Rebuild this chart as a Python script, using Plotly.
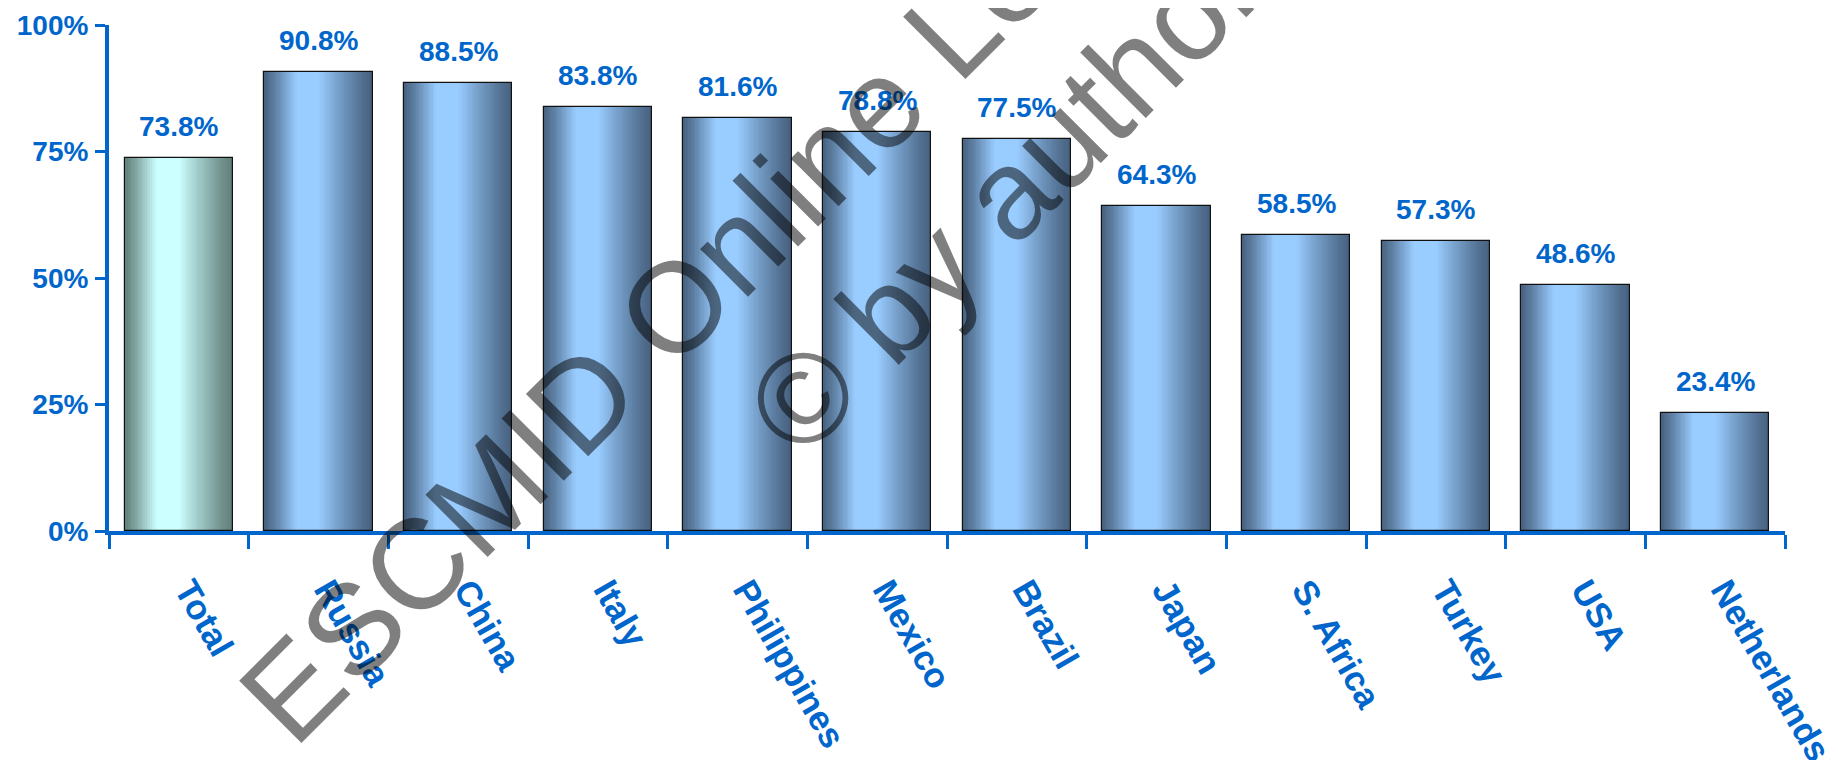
import plotly.graph_objects as go

# ---- data ----
categories = ["Total", "Russia", "China", "Italy", "Philippines", "Mexico",
              "Brazil", "Japan", "S. Africa", "Turkey", "USA", "Netherlands"]
values = [73.8, 90.8, 88.5, 83.8, 81.6, 78.8, 77.5, 64.3, 58.5, 57.3, 48.6, 23.4]
y_tick_values = [0, 25, 50, 75, 100]
y_tick_labels = ["0%", "25%", "50%", "75%", "100%"]
watermark_lines = ["ESCMID Online Lecture Library", "© by author"]

# ---- style ----
BLUE = "#0066cc"
FONT = "Liberation Sans, Arial, sans-serif"
BAR_W = 0.775
N_SLICES = 64
LABEL_PAD = "\u00a0\u00a0"   # nudges the slanted category labels along their baseline

dark_blue, light_blue = (70, 96, 126), (153, 204, 255)
dark_total, light_total = (96, 125, 120), (204, 255, 255)
profile = [(0.0, 0.0), (0.1, 0.3), (0.3, 1.0), (0.5, 1.0), (0.7, 0.55), (0.9, 0.15), (1.0, 0.0)]


def light_frac(t):
    for (t0, f0), (t1, f1) in zip(profile[:-1], profile[1:]):
        if t0 <= t <= t1:
            return f0 + (f1 - f0) * (t - t0) / (t1 - t0)
    return 0.0


def mix(c1, c2, f):
    return "rgb(%d,%d,%d)" % tuple(round(a + (b - a) * f) for a, b in zip(c1, c2))


fig = go.Figure()

step = BAR_W / N_SLICES
for i in range(N_SLICES):
    t = (i + 0.5) / N_SLICES
    f = light_frac(t)
    cb = mix(dark_blue, light_blue, f)
    ct = mix(dark_total, light_total, f)
    colors = [ct if c == "Total" else cb for c in categories]
    off = -BAR_W / 2 + i * step
    w = min(step * 1.6, BAR_W / 2 - off)
    fig.add_trace(go.Bar(
        x=categories, y=values, width=w, offset=off,
        marker=dict(color=colors, line=dict(width=0)),
        hoverinfo="skip", showlegend=False,
    ))

# outline
fig.add_trace(go.Bar(
    x=categories, y=values, width=BAR_W, offset=-BAR_W / 2,
    marker=dict(color="rgba(0,0,0,0)", line=dict(color="#111111", width=1.2)),
    hoverinfo="skip", showlegend=False,
))

annotations = []
for c, v in zip(categories, values):
    annotations.append(dict(
        x=c, y=v, text=f"{v:.1f}%", showarrow=False, xanchor="center", yanchor="bottom",
        yshift=14, font=dict(family=FONT, size=28, color=BLUE, weight="bold"),
    ))

wm_pos = [(0.4696, 0.881), (0.534, 0.662)]
for txt, (px, py) in zip(watermark_lines, wm_pos):
    annotations.append(dict(
        xref="paper", yref="paper", x=px, y=py, text=txt, showarrow=False,
        xanchor="center", yanchor="middle", textangle=-45,
        font=dict(family=FONT, size=128, color="rgba(0,0,0,0.5)"),
    ))

# page body has an 8px margin, so the figure is sized to fill the rest of the window
fig.update_layout(
    width=1830, height=752,
    margin=dict(l=101, r=53, t=17, b=229, autoexpand=False),
    paper_bgcolor="white", plot_bgcolor="white",
    barmode="overlay", bargap=0,
    annotations=annotations,
    xaxis=dict(
        type="category", tickson="boundaries", ticks="outside", ticklen=14, tickwidth=3,
        tickmode="array", tickvals=categories, ticktext=[LABEL_PAD + c for c in categories],
        tickcolor=BLUE, showline=True, linecolor=BLUE, linewidth=4, showgrid=False,
        tickangle=60, ticklabelstandoff=4, automargin=False,
        tickfont=dict(family=FONT, size=35, color=BLUE, weight="bold"),
    ),
    yaxis=dict(
        range=[0, 100], tickvals=y_tick_values, ticktext=y_tick_labels, ticks="outside",
        ticklen=10, tickwidth=3, tickcolor=BLUE, showline=True, linecolor=BLUE,
        linewidth=4, showgrid=False, zeroline=False, automargin=False,
        ticklabelstandoff=1,
        tickfont=dict(family=FONT, size=28, color=BLUE, weight="bold"),
    ),
)

fig.write_html("out.html")
